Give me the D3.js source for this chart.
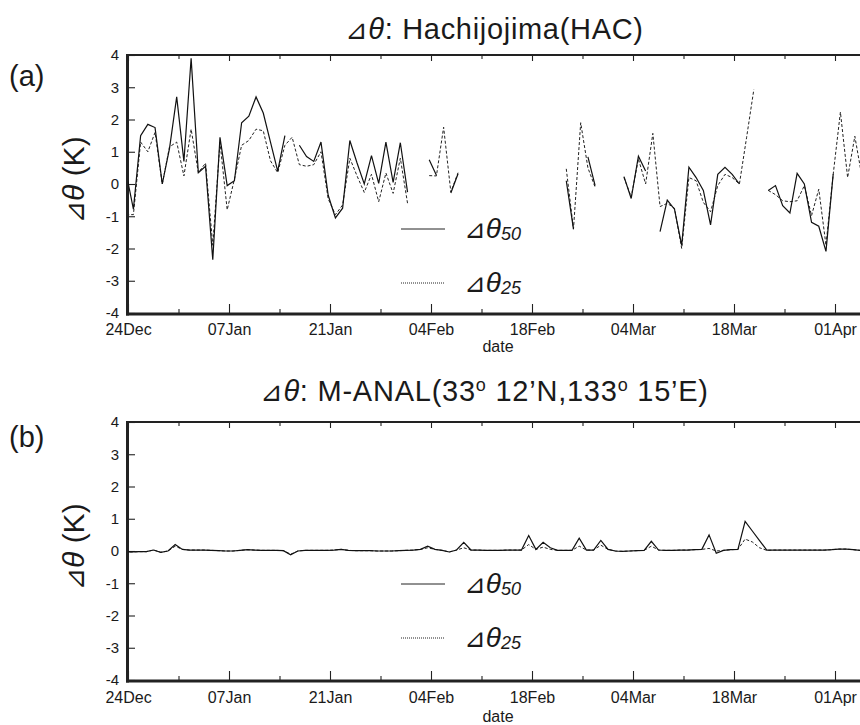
<!DOCTYPE html>
<html><head><meta charset="utf-8">
<script src="https://cdn.jsdelivr.net/npm/d3@7"></script>
<style>
body{margin:0;background:#fff}
svg{display:block}
text{font-family:"Liberation Sans",Arial,Helvetica,sans-serif;fill:#1a1a1a}
.tri{font-family:"DejaVu Sans",sans-serif}
</style>
</head><body>
<svg id="c" width="860" height="725"></svg>
<script>
// ---------- data ----------
const startDate = "2004-12-24";           // first tick (24Dec)
const tickLabels = ["24Dec","07Jan","21Jan","04Feb","18Feb","04Mar","18Mar","01Apr"];
const yTicks = [-4,-3,-2,-1,0,1,2,3,4];
const firstDay = -1;                      // day index of first value in each series
const obsHourHac = 18;                    // observation hour offset (panel a)
const obsHourManal = 13;                  // observation hour offset (panel b)

const hacTheta50 = [
 0.33,-0.78,1.5,1.85,1.75,0.0,1.1,2.7,0.7,3.9,0.35,
 0.55,-2.35,1.45,-0.05,0.1,1.9,2.1,2.7,2.2,1.3,
 0.4,1.5,null,1.2,0.85,0.7,1.3,-0.35,-1.05,-0.75,
 1.35,0.65,0.0,0.88,0.02,1.3,0.05,1.28,-0.25,null,
 null,0.75,0.27,null,-0.28,0.32,null,null,null,null,
 null,null,null,null,null,null,null,null,null,null,
 0.1,-1.4,null,0.84,-0.05,null,null,null,0.23,-0.45,
 0.86,0.4,null,-1.48,-0.5,-0.78,-1.9,0.52,0.2,-0.2,
 -1.27,0.3,0.52,0.3,0.0,null,null,null,-0.2,-0.05,
 -0.67,-0.9,0.33,0.0,-1.19,-1.31,-2.09,0.31,null,null,
 null,null];
const hacTheta25 = [
 -0.95,-0.95,1.3,1.0,1.6,0.0,1.15,1.3,0.25,1.7,0.35,
 0.65,-1.9,1.3,-0.8,0.15,1.2,1.35,1.7,1.65,0.72,
 0.35,1.2,1.45,0.6,0.55,0.6,1.0,-0.46,-0.95,-0.65,
 0.8,0.25,-0.26,0.3,-0.55,0.34,-0.29,0.8,-0.6,null,
 null,0.26,0.25,1.76,-0.25,0.35,null,null,null,null,
 null,null,null,null,null,null,null,null,null,null,
 0.47,-1.4,1.9,0.5,-0.1,null,null,null,0.2,-0.4,
 0.78,0.0,1.57,-0.7,-0.6,-0.75,-2.0,0.2,0.1,-0.57,
 -0.86,-0.05,0.3,0.2,0.0,1.45,2.93,null,-0.2,-0.33,
 -0.52,-0.55,-0.52,-0.05,-0.98,-0.16,-1.9,0.3,2.23,0.2,
 1.48,0.2];
const manalTheta50 = [
 -0.02,-0.03,-0.02,-0.02,0.03,-0.04,0.0,0.2,0.05,0.03,0.03,
 0.03,0.02,0.01,0.0,0.0,0.02,0.04,0.03,0.02,0.02,
 0.02,0.01,-0.12,0.0,0.02,0.02,0.02,0.02,0.03,0.05,
 0.02,0.01,0.01,0.01,0.0,0.0,0.0,0.01,0.02,0.03,
 0.05,0.15,0.05,0.02,-0.03,0.03,0.27,0.03,0.03,0.02,
 0.02,0.02,0.03,0.03,0.03,0.48,0.05,0.27,0.1,0.02,
 0.02,0.02,0.4,0.03,0.03,0.33,0.05,0.0,-0.01,0.0,
 0.01,0.02,0.3,0.03,0.02,0.02,0.03,0.03,0.04,0.05,
 0.5,-0.07,0.02,0.04,0.05,0.92,0.62,0.32,0.03,0.03,
 0.03,0.03,0.03,0.03,0.03,0.03,0.03,0.04,0.06,0.06,
 0.04,0.02];
const manalTheta25 = [
 -0.02,-0.03,-0.02,-0.02,0.03,-0.04,0.0,0.15,0.05,0.03,0.03,
 0.03,0.02,0.01,0.0,0.0,0.02,0.04,0.03,0.02,0.02,
 0.02,0.01,-0.1,0.0,0.02,0.02,0.02,0.02,0.03,0.05,
 0.02,0.01,0.01,0.01,0.0,0.0,0.0,0.01,0.02,0.03,
 0.05,0.1,0.05,0.02,-0.03,0.03,0.1,0.03,0.03,0.02,
 0.02,0.02,0.03,0.03,0.03,0.2,0.05,0.12,0.05,0.02,
 0.02,0.02,0.15,0.03,0.03,0.18,0.05,0.0,-0.01,0.0,
 0.01,0.02,0.15,0.03,0.02,0.02,0.03,0.03,0.04,0.05,
 0.08,0.0,0.02,0.04,0.05,0.37,0.28,0.1,0.02,0.03,
 0.03,0.03,0.03,0.03,0.03,0.03,0.03,0.04,0.06,0.06,
 0.04,0.02];

// ---------- layout ----------
const svg = d3.select("#c");
const t0 = d3.utcParse("%Y-%m-%d")(startDate);
const left = 128, plotRight = 872;
const x = d3.scaleUtc().domain([t0, d3.utcDay.offset(t0, 98)]).range([left, 835]);
const majorTicks = tickLabels.map((_, i) => d3.utcDay.offset(t0, 14 * i));
const minorTicks = d3.range(7).map(i => d3.utcDay.offset(t0, 7 + 14 * i));
const toDate = (i, hour) => new Date(+t0 + ((firstDay + i) * 24 + hour) * 3600e3);

const panels = [
  {id:"a", top:55, bottom:313, s50:hacTheta50, s25:hacTheta25, hour:obsHourHac,
   labelY:86, titleY:39, titleX:494, title:"Hachijojima(HAC)", titleLen:298, legY:229, tickLabY:335, dateY:352},
  {id:"b", top:422, bottom:680, s50:manalTheta50, s25:manalTheta25, hour:obsHourManal,
   labelY:447, titleY:401, titleX:484, title:null, titleLen:448, legY:584, tickLabY:703, dateY:722}
];

panels.forEach(p => {
  const y = d3.scaleLinear().domain([-4, 4]).range([p.bottom, p.top]);
  const g = svg.append("g");

  const clipId = "clip" + p.id;
  svg.append("clipPath").attr("id", clipId).append("rect")
    .attr("x", left).attr("y", p.top).attr("width", plotRight - left).attr("height", p.bottom - p.top);

  // axes
  const yAx = g.append("g").attr("transform", `translate(${left},0)`)
    .call(d3.axisLeft(y).tickValues(yTicks).tickFormat(d => String(d))
      .tickSizeInner(-7).tickSizeOuter(0).tickPadding(9));
  yAx.selectAll("text").style("font-size", "15px");
  const xAx = g.append("g").attr("transform", `translate(0,${p.bottom})`)
    .call(d3.axisBottom(x).tickValues(majorTicks).tickFormat((d, i) => tickLabels[i])
      .tickSizeInner(-9).tickSizeOuter(0).tickPadding(p.tickLabY - p.bottom - 11.3));
  xAx.selectAll("text").style("font-size", "16px");
  g.append("g").attr("transform", `translate(0,${p.bottom})`)
    .call(d3.axisBottom(x).tickValues(minorTicks).tickFormat("").tickSizeInner(-4).tickSizeOuter(0));
  g.append("g").attr("transform", `translate(0,${p.top})`)
    .call(d3.axisTop(x).tickValues(majorTicks).tickFormat("").tickSizeInner(-6).tickSizeOuter(0));
  g.append("g").attr("transform", `translate(0,${p.top})`)
    .call(d3.axisTop(x).tickValues(minorTicks).tickFormat("").tickSizeInner(-4).tickSizeOuter(0));
  g.selectAll(".domain").remove();
  g.selectAll(".tick line").attr("stroke", "#222").attr("stroke-width", 1.1);

  // frame
  g.append("line").attr("x1", left - 1).attr("x2", plotRight).attr("y1", p.top).attr("y2", p.top)
    .attr("stroke", "#222").attr("stroke-width", 2.2);
  g.append("line").attr("x1", left - 2).attr("x2", plotRight).attr("y1", p.bottom + 1).attr("y2", p.bottom + 1)
    .attr("stroke", "#222").attr("stroke-width", 3);
  g.append("line").attr("x1", left - 0.5).attr("x2", left - 0.5).attr("y1", p.top - 1).attr("y2", p.bottom + 2.5)
    .attr("stroke", "#222").attr("stroke-width", 3);

  // series
  const mk = arr => arr.map((v, i) => ({d: toDate(i, p.hour), v}));
  const line = d3.line().defined(d => d.v != null).x(d => x(d.d)).y(d => y(d.v));
  const lg = g.append("g").attr("clip-path", `url(#${clipId})`);
  lg.append("path").datum(mk(p.s25)).attr("d", line).attr("fill", "none")
    .attr("stroke", "#222").attr("stroke-width", 1).attr("stroke-dasharray", "3,2");
  lg.append("path").datum(mk(p.s50)).attr("d", line).attr("fill", "none")
    .attr("stroke", "#111").attr("stroke-width", 1.2);

  // legend
  const legItems = [{sub:"50", dash:null, dy:0}, {sub:"25", dash:"1,1", dy:54}];
  legItems.forEach(it => {
    const ly = p.legY + it.dy;
    g.append("line").attr("x1", 401).attr("x2", 445).attr("y1", ly).attr("y2", ly)
      .attr("stroke", "#222").attr("stroke-width", 1).attr("stroke-dasharray", it.dash);
    const t = g.append("text").attr("x", 464).attr("y", ly + 9);
    t.append("tspan").attr("class", "tri").style("font-size", "26px").text("⊿");
    t.append("tspan").style("font-size", "28px").style("font-style", "italic").text("θ");
    t.append("tspan").style("font-size", "18px").style("font-style", "italic").attr("dy", 2).text(it.sub);
  });

  // y label
  const yl = g.append("text").attr("transform", `translate(84,${(p.top + p.bottom) / 2 - 4}) rotate(-90)`)
    .attr("text-anchor", "middle").style("font-size", "30px");
  yl.append("tspan").attr("class", "tri").style("font-size", "27px").text("⊿");
  yl.append("tspan").style("font-style", "italic").text("θ");
  yl.append("tspan").text(" (K)");

  // x label
  g.append("text").attr("x", 498).attr("y", p.dateY).attr("text-anchor", "middle")
    .style("font-size", "16px").text("date");

  // panel label
  g.append("text").attr("x", 9).attr("y", p.labelY).style("font-size", "29px").text(`(${p.id})`);

  // title
  const tt = g.append("text").attr("x", p.titleX).attr("y", p.titleY).attr("text-anchor", "middle")
    .style("font-size", "29px")
    .attr("textLength", p.titleLen).attr("lengthAdjust", "spacing");
  tt.append("tspan").attr("class", "tri").style("font-size", "27px").text("⊿");
  tt.append("tspan").style("font-style", "italic").text("θ");
  if (p.title) {
    tt.append("tspan").text(": " + p.title);
  } else {
    tt.append("tspan").text(": M-ANAL(33");
    tt.append("tspan").style("font-size", "18px").attr("dy", -10).text("o");
    tt.append("tspan").attr("dy", 10).text(" 12’N,133");
    tt.append("tspan").style("font-size", "18px").attr("dy", -10).text("o");
    tt.append("tspan").attr("dy", 10).text(" 15’E)");
  }
});
</script>
</body></html>
